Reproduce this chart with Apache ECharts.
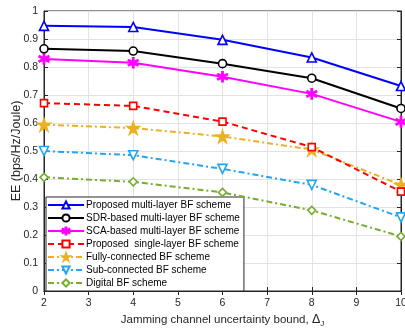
<!DOCTYPE html>
<html><head><meta charset="utf-8">
<script src="https://cdn.jsdelivr.net/npm/echarts@6/dist/echarts.min.js"></script>
<style>html,body{margin:0;padding:0;background:#fff;overflow:hidden;}#c{width:405px;height:329px;}</style>
</head><body><div id="c"></div>
<script>
const xValues = [2, 4, 6, 8, 10];
const yTicks = [0, 0.1, 0.2, 0.3, 0.4, 0.5, 0.6, 0.7, 0.8, 0.9, 1];
const seriesNames = [
  'Proposed multi-layer BF scheme',
  'SDR-based multi-layer BF scheme',
  'SCA-based multi-layer BF scheme',
  'Proposed  single-layer BF scheme',
  'Fully-connected BF scheme',
  'Sub-connected BF scheme',
  'Digital BF scheme'
];
const proposedMulti = [0.947, 0.943, 0.897, 0.834, 0.732];
const sdrMulti = [0.865, 0.857, 0.812, 0.760, 0.652];
const scaMulti = [0.829, 0.815, 0.765, 0.704, 0.604];
const proposedSingle = [0.671, 0.661, 0.605, 0.514, 0.355];
const fullyConnected = [0.594, 0.582, 0.552, 0.505, 0.379];
const subConnected = [0.500, 0.485, 0.436, 0.379, 0.263];
const digitalBF = [0.406, 0.390, 0.352, 0.288, 0.195];

const allValues = [proposedMulti, sdrMulti, scaMulti, proposedSingle, fullyConnected, subConnected, digitalBF];
const colors = ['#0000ff', '#000000', '#ff00ff', '#ff0000', '#edb120', '#22a6f0', '#77ac30'];
const dashes = ['solid', 'solid', 'solid', [6, 4], [6, 3, 2, 3], [6, 3, 2, 3], [6, 3, 2, 3]];
const asterisk = 'path://M4.5,0 L5.5,0 L5.5,3.6 L8.6,1.8 L9.1,2.7 L6,4.5 L9.1,6.3 L8.6,7.2 L5.5,5.4 L5.5,9 L4.5,9 L4.5,5.4 L1.4,7.2 L0.9,6.3 L4,4.5 L0.9,2.7 L1.4,1.8 L4.5,3.6 Z';
const symbols = ['triangle', 'circle', asterisk, 'rect', 'path://M5,0 L6.2,3.6 L10,3.6 L6.9,5.8 L8.1,9.5 L5,7.2 L1.9,9.5 L3.1,5.8 L0,3.6 L3.8,3.6 Z', 'path://M0,0 L10,0 L5,9 Z', 'diamond'];
const sizes = [9, 8, 10, 7, 12, 9, 8];
const filled = [false, false, true, false, true, false, false];

const chart = echarts.init(document.getElementById('c'), null, {renderer: 'canvas', width: 405, height: 329});
const font = 'Liberation Sans, Arial, Helvetica, sans-serif';
const axisColor = '#262626';

const series = allValues.map((vals, i) => ({
  name: seriesNames[i],
  type: 'line',
  data: xValues.map((x, j) => [x, vals[j]]),
  symbol: symbols[i],
  symbolSize: sizes[i],
  showSymbol: true,
  lineStyle: {color: colors[i], width: 2, type: dashes[i]},
  itemStyle: {color: filled[i] ? colors[i] : '#ffffff', borderColor: colors[i], borderWidth: 1.6},
  emphasis: {disabled: true},
  z: 10 - i,
  animation: false
}));

chart.setOption({
  animation: false,
  backgroundColor: '#ffffff',
  grid: {left: 44, right: 4, top: 11, bottom: 38, show: true, borderColor: axisColor, borderWidth: 1, containLabel: false, outerBoundsMode: 'none'},
  legend: {
    orient: 'vertical',
    left: 46, top: 197,
    data: seriesNames,
    itemWidth: 36, itemHeight: 9, itemGap: 3,
    padding: [3, 4, 3, 1],
    backgroundColor: '#ffffff',
    borderColor: axisColor, borderWidth: 1, borderRadius: 0,
    textStyle: {fontFamily: font, fontSize: 10, lineHeight: 9, color: '#000', padding: [0, 0, 0, -3]}
  },
  xAxis: [{
    type: 'value', min: 2, max: 10, interval: 1,
    name: 'Jamming channel uncertainty bound, {d|Δ}{s|J}',
    nameLocation: 'middle', nameGap: 21, nameMoveOverlap: false,
    nameTextStyle: {fontFamily: font, fontSize: 11.5, color: axisColor,
      rich: {d: {fontFamily: font, fontSize: 12.5, color: axisColor}, s: {fontFamily: font, fontSize: 8, color: axisColor, padding: [8, 0, 0, 0]}}},
    axisLine: {show: true, lineStyle: {color: axisColor}},
    axisTick: {show: true, inside: true, length: 4, lineStyle: {color: axisColor}},
    axisLabel: {fontFamily: font, fontSize: 10.5, color: axisColor, margin: 7},
    splitLine: {show: true, lineStyle: {color: '#e3e3e3', width: 1}}
  }, {
    type: 'value', min: 2, max: 10, interval: 1, position: 'top',
    axisLine: {show: true, lineStyle: {color: axisColor}},
    axisTick: {show: true, inside: true, length: 4, lineStyle: {color: axisColor}},
    axisLabel: {show: false}, splitLine: {show: false}
  }],
  yAxis: [{
    type: 'value', min: 0, max: 1, interval: 0.1,
    name: 'EE (bps/Hz/Joule)',
    nameLocation: 'middle', nameGap: 21, nameMoveOverlap: false,
    nameTextStyle: {fontFamily: font, fontSize: 12.5, color: axisColor},
    axisLine: {show: true, lineStyle: {color: axisColor}},
    axisTick: {show: true, inside: true, length: 4, lineStyle: {color: axisColor}},
    axisLabel: {fontFamily: font, fontSize: 10.5, color: axisColor, margin: 6,
      formatter: v => { const t = yTicks.find(k => Math.abs(k - v) < 1e-9); return t === undefined ? '' : String(t); }},
    splitLine: {show: true, lineStyle: {color: '#e3e3e3', width: 1}}
  }, {
    type: 'value', min: 0, max: 1, interval: 0.1, position: 'right',
    axisLine: {show: true, lineStyle: {color: axisColor}},
    axisTick: {show: true, inside: true, length: 4, lineStyle: {color: axisColor}},
    axisLabel: {show: false}, splitLine: {show: false}
  }],
  series: series
});
</script></body></html>
